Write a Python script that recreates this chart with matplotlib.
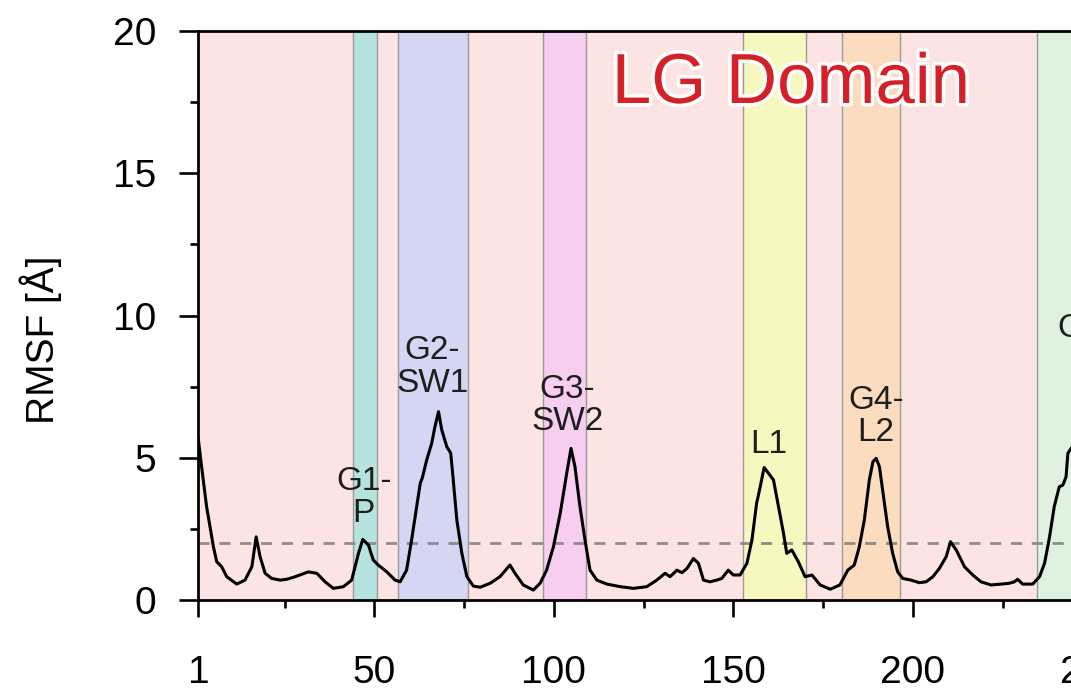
import matplotlib
matplotlib.use("Agg")
import matplotlib.pyplot as plt
import matplotlib.patheffects as pe
from matplotlib.ticker import MultipleLocator, FixedLocator

plt.rcParams['font.family'] = ['Liberation Sans', 'DejaVu Sans']

# RMSF trace (residue, Angstrom)
resid = [1, 1.9, 3.3, 5.2, 6.1, 7.5, 8.9, 11.7, 14.0, 15.9, 17.1, 18.2, 19.6, 21.4, 23.8,
         25.6, 27.5, 29.3, 31.6, 34.0, 36.3, 38.6, 41.4, 43.7, 45.6, 46.8, 48.4, 49.7, 51.1,
         53.5, 55.8, 57.2, 59.0, 60.4, 61.8, 62.8, 63.4, 64.6, 66.0, 66.9, 67.9, 68.8, 70.2,
         71.3, 72.0, 73.0, 74.4, 75.8, 77.6, 79.5, 82.3, 85.0, 87.8, 89.2, 91.5, 94.3, 96.2,
         98.0, 99.9, 101.8, 103.6, 104.8, 105.9, 107.3, 108.7, 110.1, 112.0, 114.8, 118.5,
         122.2, 125.9, 128.7, 131.0, 132.4, 134.3, 135.7, 137.1, 138.9, 140.3, 141.7, 143.5,
         145.4, 146.8, 148.6, 150.0, 151.9, 153.8, 155.2, 156.5, 157.5, 158.6, 160.2, 161.2,
         162.6, 164.0, 164.9, 166.3, 168.1, 170.0, 171.9, 174.2, 177.0, 179.7, 181.9, 183.7,
         185.1, 186.5, 187.9, 188.9, 189.8, 190.7, 191.6, 193.0, 194.4, 195.8, 197.2, 199.5,
         201.8, 203.7, 205.6, 207.4, 209.3, 210.5, 212.1, 214.4, 216.7, 219.0, 221.8, 224.6,
         226.9, 228.3, 229.2, 230.6, 233.4, 235.3, 236.7, 238.1, 239.4, 240.8, 241.8, 242.7,
         243.2, 244.5]
rmsf = [5.65, 4.69, 3.28, 1.87, 1.35, 1.17, 0.82, 0.56, 0.70, 1.17, 2.22, 1.52, 0.94, 0.76, 0.70,
        0.73, 0.80, 0.88, 0.99, 0.94, 0.64, 0.41, 0.47, 0.70, 1.64, 2.13, 1.93, 1.41, 1.23,
        0.99, 0.70, 0.64, 1.05, 2.11, 3.28, 4.10, 4.30, 4.92, 5.51, 6.09, 6.62, 5.98, 5.39,
        5.16, 4.22, 2.81, 1.64, 0.82, 0.49, 0.45, 0.59, 0.82, 1.23, 0.94, 0.53, 0.35, 0.59,
        1.05, 1.87, 3.05, 4.45, 5.33, 4.69, 3.28, 2.11, 1.05, 0.70, 0.56, 0.47,
        0.41, 0.47, 0.70, 0.94, 0.82, 1.05, 0.96, 1.11, 1.46, 1.29, 0.70, 0.64,
        0.70, 0.76, 1.05, 0.88, 0.88, 1.29, 2.11, 3.40, 3.98, 4.66, 4.39, 4.22,
        3.28, 2.34, 1.64, 1.76, 1.35, 0.82, 0.88, 0.53, 0.38, 0.53, 1.05, 1.23,
        1.87, 2.81, 4.22, 4.86, 4.98, 4.69, 3.87, 2.58, 1.64, 0.99, 0.76, 0.70,
        0.61, 0.64, 0.82, 1.11, 1.52, 2.05, 1.76, 1.17, 0.88, 0.64, 0.53, 0.56,
        0.59, 0.64, 0.73, 0.56, 0.56, 0.82, 1.29, 2.22, 3.28, 3.98, 4.04, 4.33,
        5.16, 5.4]

threshold = 2.0

# shaded regions
domain_span = (1, 234.5)
region_names = ["G1-\nP", "G2-\nSW1", "G3-\nSW2", "L1", "G4-\nL2", "G5-"]
region_start = [44.0, 56.7, 96.9, 152.6, 180.2, 234.5]
region_end = [50.8, 76.2, 109.0, 170.2, 196.5, 262.0]
region_colors = ["#b7e3df", "#d5d5f4", "#f7cdf0", "#f7f7c0", "#fcdcbe", "#dff2df"]
label_x = [47.1, 66.2, 103.8, 160.0, 189.7, 240.2]
label_y = [3.59, 8.19, 6.84, 5.48, 6.45, 9.56]

fig = plt.figure(figsize=(10.71, 6.92), dpi=100)
ax = fig.add_axes([0.1852, 0.1329, 0.8749, 0.8223])

ax.axvspan(*domain_span, color="#fde4e4", lw=0, zorder=0)
for s, e, c in zip(region_start, region_end, region_colors):
    ax.axvspan(s, e, facecolor=c, edgecolor="#9a9a9a", lw=1.0, zorder=1)

ax.axhline(threshold, color="#8c8c8c", lw=2, ls=(0, (4, 3.5)), zorder=2)
ax.plot(resid, rmsf, color="black", lw=2.2, zorder=3)

for name, x, y in zip(region_names, label_x, label_y):
    ha = "left" if name == "G5-" else "center"
    ax.text(x, y, name, ha=ha, va="center", fontsize=24, color="#1e1e1e",
            linespacing=1.05, zorder=4)

ax.text(166.1, 17.47, "LG Domain", ha="center", va="baseline", fontsize=51,
        color="#d42027", zorder=5,
        path_effects=[pe.withStroke(linewidth=5, foreground="white")])

ax.set_xlim(1, 262)
ax.set_ylim(0, 20)
ax.xaxis.set_major_locator(FixedLocator([1, 50, 100, 150, 200, 250]))
ax.xaxis.set_minor_locator(FixedLocator([25, 75, 125, 175, 225]))
ax.yaxis.set_major_locator(MultipleLocator(5))
ax.yaxis.set_minor_locator(MultipleLocator(2.5))

ax.tick_params(axis="x", which="major", length=12.5, width=1.9, pad=27, labelsize=28)
ax.tick_params(axis="x", which="minor", length=5.5, width=1.9)
ax.tick_params(axis="y", which="major", length=13.5, width=1.9, pad=17, labelsize=28)
ax.tick_params(axis="y", which="minor", length=6, width=1.9)
for sp in ax.spines.values():
    sp.set_linewidth(2.0)

ax.set_ylabel("RMSF [Å]", fontsize=28)
ax.yaxis.set_label_coords(-0.1455, 0.457)

fig.savefig("out.png", dpi=100)
